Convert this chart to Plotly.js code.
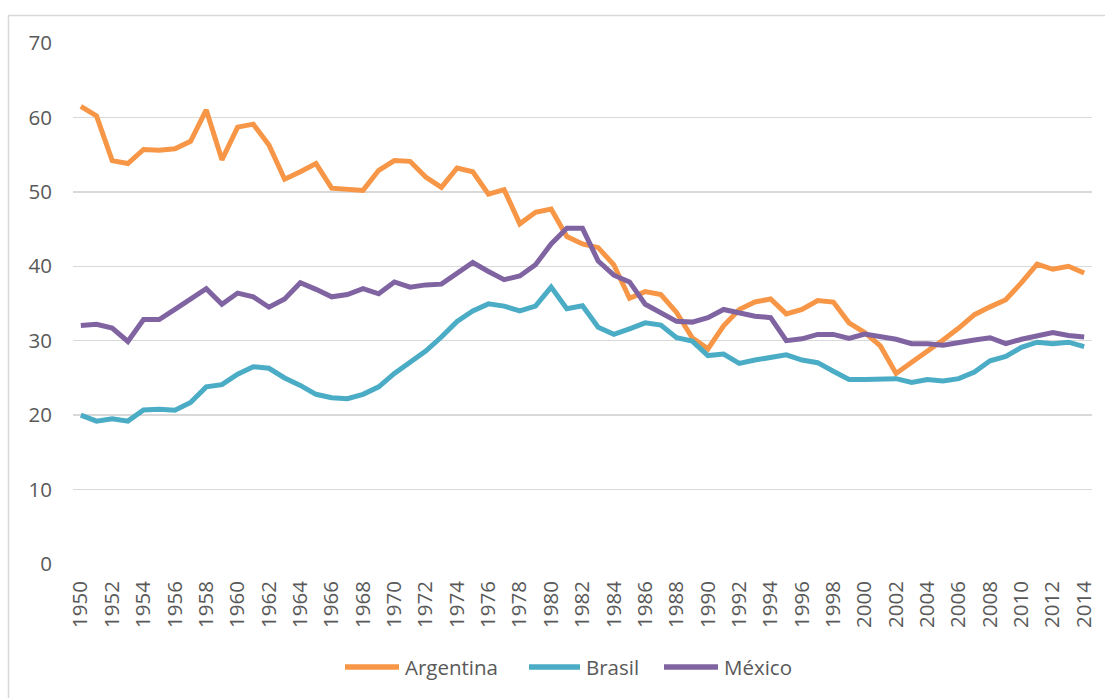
<!DOCTYPE html>
<html>
<head>
<meta charset="utf-8">
<script src="https://cdn.plot.ly/plotly-3.0.1.min.js"></script>
<style>
  html, body { margin: 0; padding: 0; background: #ffffff; }
  #chart { width: 1105px; height: 698px; }
</style>
</head>
<body>
<div id="chart"></div>
<script>
const years = [];
for (let y = 1950; y <= 2014; y++) years.push(y);

const seriesNames = ["Argentina", "Brasil", "México"];

const argentina = [
  61.5, 60.2, 54.2, 53.8, 55.7, 55.6, 55.8, 56.8, 61.0, 54.3,
  58.7, 59.1, 56.3, 51.7, 52.7, 53.8, 50.5, 50.3, 50.2, 52.9,
  54.2, 54.1, 52.0, 50.6, 53.2, 52.7, 49.7, 50.3, 45.7, 47.25,
  47.7, 44.0, 43.0, 42.5, 40.2, 35.7, 36.6, 36.2, 33.8, 30.4,
  28.9, 32.0, 34.2, 35.2, 35.6, 33.6, 34.2, 35.4, 35.2, 32.4,
  31.1, 29.3, 25.6, 27.1, 28.5, 30.1, 31.7, 33.5, 34.55, 35.5,
  37.8, 40.3, 39.6, 40.0, 39.1
];

const brasil = [
  20.0, 19.2, 19.5, 19.2, 20.7, 20.8, 20.65, 21.7, 23.8, 24.1,
  25.5, 26.5, 26.3, 25.0, 24.0, 22.8, 22.35, 22.2, 22.8, 23.8,
  25.6, 27.1, 28.6, 30.5, 32.6, 34.0, 34.95, 34.65, 34.0, 34.65,
  37.2, 34.3, 34.7, 31.8, 30.85, 31.6, 32.4, 32.1, 30.4, 29.95,
  28.0, 28.2, 26.95, 27.4, 27.8, 28.1, 27.4, 27.05, 25.9, 24.8,
  24.8, 24.8, 24.9, 24.4, 24.8, 24.6, 24.9, 25.8, 27.3, 27.9,
  29.1, 29.8, 29.6, 29.8, 29.2
];

const mexico = [
  32.05, 32.2, 31.7, 29.9, 32.85, 32.85, 34.2, 35.6, 37.0, 34.9,
  36.4, 35.9, 34.5, 35.6, 37.8, 36.9, 35.9, 36.2, 37.0, 36.3,
  37.9, 37.2, 37.5, 37.6, 39.1, 40.5, 39.3, 38.2, 38.7, 40.2,
  43.0, 45.1, 45.1, 40.7, 38.8, 37.9, 34.9, 33.8, 32.6, 32.5,
  33.1, 34.2, 33.8, 33.3, 33.1, 30.0, 30.25, 30.85, 30.85, 30.3,
  30.9, 30.6, 30.2, 29.6, 29.6, 29.4, 29.8, 30.1, 30.4, 29.6,
  30.2, 30.7, 31.1, 30.7, 30.5
];

const yTicks = [0, 10, 20, 30, 40, 50, 60, 70];
const xTicks = years.filter(y => (y - 1950) % 2 === 0);

const colors = ["#F79646", "#4BACC6", "#8064A2"];
const values = [argentina, brasil, mexico];

const FONT = "Open Sans, Noto Sans, sans-serif";
const FS = 20.5;
const TXT = "#595959";

const traces = seriesNames.map((name, i) => ({
  type: "scatter",
  mode: "lines",
  name: name,
  x: years,
  y: values[i],
  line: { color: colors[i], width: 5, shape: "linear" },
  showlegend: false,
  hoverinfo: "x+y+name"
}));

const plotLeft = 73, plotRight = 1092, plotTop = 43, plotBottom = 564;
const W = 1105, H = 698;
const pw = plotRight - plotLeft, ph = plotBottom - plotTop;
function px(x) { return (x - plotLeft) / pw; }
function py(y) { return (plotBottom - y) / ph; }

// legend geometry (pixel positions of each key line start / end)
const legendY = 667;
const legendKeys = [[345, 399], [529, 580], [664, 718]];

const shapes = [
  { type: "line", xref: "paper", yref: "paper",
    x0: px(8.5), x1: px(8.5), y0: py(15), y1: py(H + 5),
    line: { color: "#d9d9d9", width: 1.5 } },
  { type: "line", xref: "paper", yref: "paper",
    x0: px(8), x1: px(W + 5), y0: py(15.5), y1: py(15.5),
    line: { color: "#d9d9d9", width: 1.5 } }
];
const annotations = [];
seriesNames.forEach((name, i) => {
  const [a, b] = legendKeys[i];
  shapes.push({ type: "line", xref: "paper", yref: "paper",
    x0: px(a), x1: px(b), y0: py(legendY), y1: py(legendY),
    line: { color: colors[i], width: 5.5 } });
  annotations.push({ xref: "paper", yref: "paper",
    x: px(b + 4), y: py(legendY), xanchor: "left", yanchor: "middle",
    text: name, showarrow: false,
    font: { family: FONT, size: FS, color: TXT } });
});

const layout = {
  width: W,
  height: H,
  paper_bgcolor: "#ffffff",
  plot_bgcolor: "#ffffff",
  margin: { l: plotLeft, r: W - plotRight, t: plotTop, b: H - plotBottom, pad: 0 },
  font: { family: FONT, size: FS, color: TXT },
  showlegend: false,
  xaxis: {
    type: "linear",
    range: [1949.5, 2014.5],
    tickmode: "array",
    tickvals: xTicks,
    ticktext: xTicks.map(String),
    tickangle: -90,
    showgrid: false,
    zeroline: false,
    showline: false,
    ticks: "",
    ticklabelstandoff: 12,
    tickfont: { family: FONT, size: FS, color: TXT },
    fixedrange: true
  },
  yaxis: {
    range: [0, 70],
    tickmode: "array",
    tickvals: yTicks,
    ticktext: yTicks.map(String),
    showgrid: true,
    gridcolor: "#d9d9d9",
    gridwidth: 1.5,
    zeroline: false,
    showline: false,
    ticks: "",
    ticklabelstandoff: 20,
    tickfont: { family: FONT, size: FS, color: TXT },
    fixedrange: true
  },
  shapes: shapes,
  annotations: annotations
};

Plotly.newPlot("chart", traces, layout, { displayModeBar: false, staticPlot: true });
</script>
</body>
</html>
